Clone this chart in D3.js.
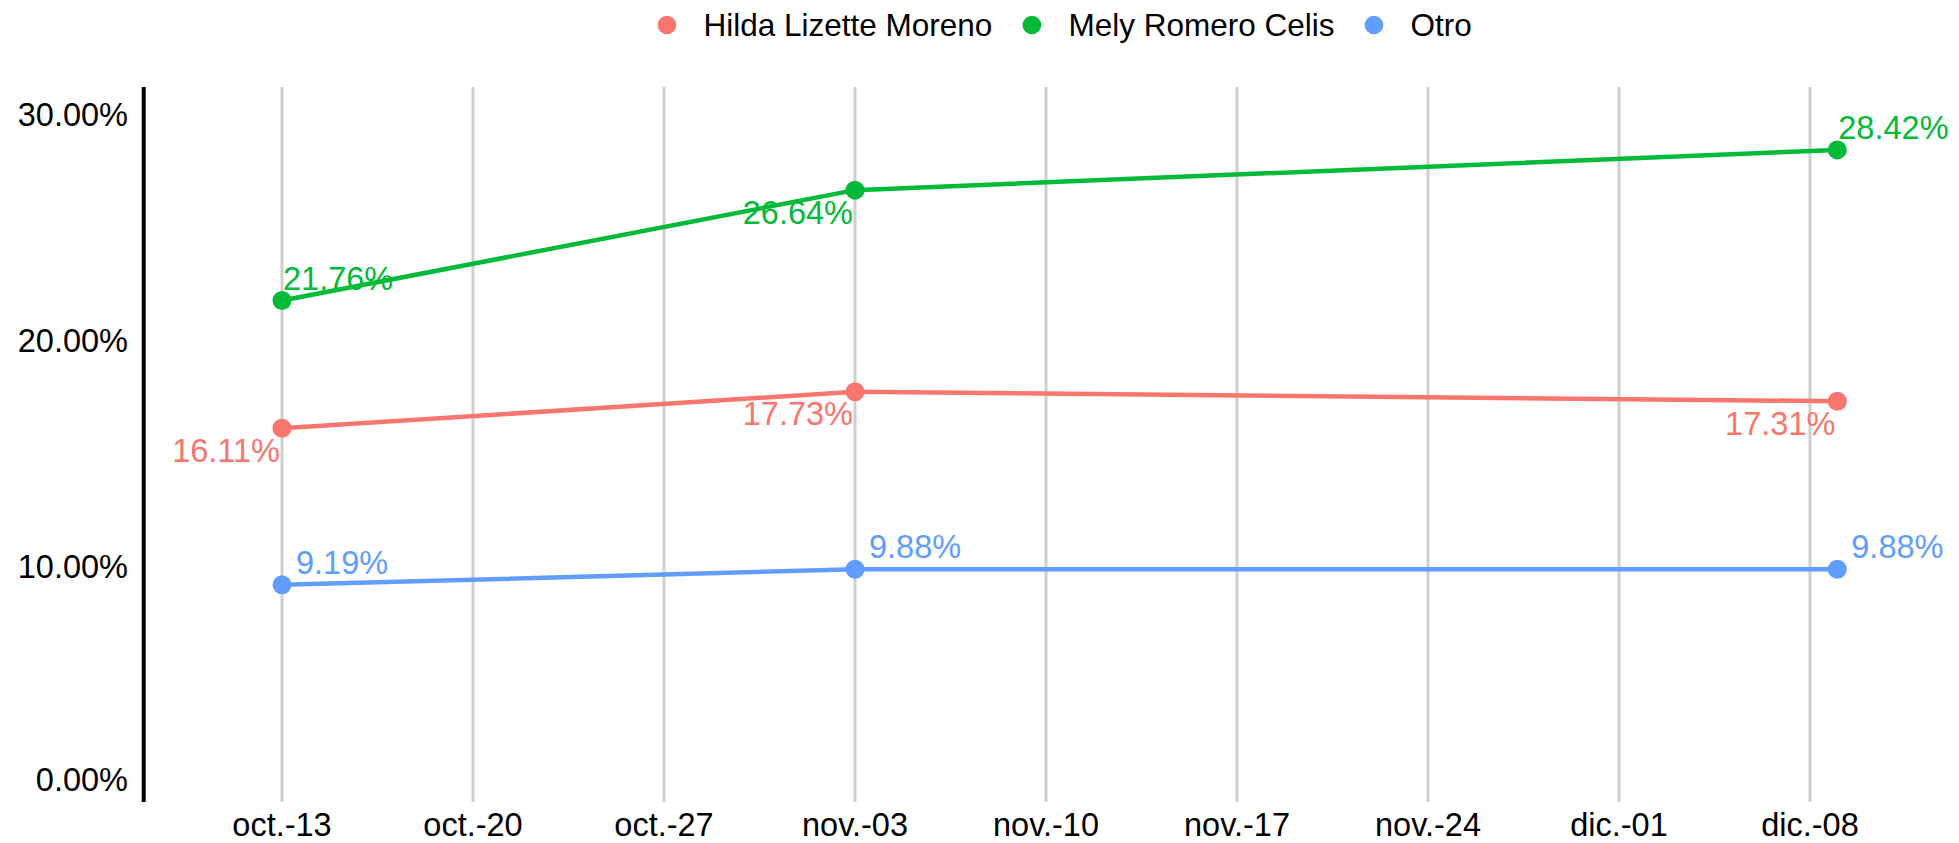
<!DOCTYPE html>
<html lang="es">
  <head>
    <meta charset="UTF-8" />
    <title>Encuesta</title>
    <script src="https://cdn.jsdelivr.net/npm/d3@7"></script>
    <style>
      body { margin: 0; background: #fff; }
      svg { display: block; font-family: "Liberation Sans", Arial, sans-serif; }
      .grid line { stroke: #cfcfcf; stroke-width: 3px; }
      .tick-label { font-size: 32.5px; fill: #000; }
      .point-label { font-size: 32.5px; }
      .legend text { font-size: 31.5px; fill: #000; }
    </style>
  </head>
  <body>
    <div id="chart"></div>
    <script>
      // datos
      const fechas = ["2024-10-13", "2024-11-03", "2024-12-09"];
      const candidatos = ["Hilda Lizette Moreno", "Mely Romero Celis", "Otro"];
      const hilda = [16.11, 17.73, 17.31];
      const mely = [21.76, 26.64, 28.42];
      const otro = [9.19, 9.88, 9.88];
      const yTicks = [0, 10, 20, 30];
      const colores = ["#F8766D", "#00BA38", "#619CFF"];

      const width = 1959, height = 843;
      const parse = d3.timeParse("%Y-%m-%d");

      const es = d3.timeFormatLocale({
        dateTime: "%x, %X", date: "%d/%m/%Y", time: "%-H:%M:%S",
        periods: ["AM", "PM"],
        days: ["domingo", "lunes", "martes", "miércoles", "jueves", "viernes", "sábado"],
        shortDays: ["dom", "lun", "mar", "mié", "jue", "vie", "sáb"],
        months: ["enero", "febrero", "marzo", "abril", "mayo", "junio", "julio", "agosto", "septiembre", "octubre", "noviembre", "diciembre"],
        shortMonths: ["ene.", "feb.", "mar.", "abr.", "may.", "jun.", "jul.", "ago.", "sept.", "oct.", "nov.", "dic."]
      });
      const fmtFecha = es.format("%b-%d");

      const series = [hilda, mely, otro].map((vals, i) => ({
        name: candidatos[i],
        color: colores[i],
        values: vals.map((v, j) => ({ date: parse(fechas[j]), value: v, idx: j }))
      }));

      const x = d3.scaleTime()
        .domain([parse(fechas[0]), parse(fechas[fechas.length - 1])])
        .range([282, 1837.3]);
      const y = d3.scaleLinear()
        .domain([-0.41, 31.2])
        .range([802, 87]);

      const svg = d3.select("#chart").append("svg")
        .attr("width", width)
        .attr("height", height);

      // lineas verticales semanales
      const semanas = d3.timeWeek.every(1).range(parse("2024-10-13"), d3.timeDay.offset(x.domain()[1], 1));
      svg.append("g").attr("class", "grid")
        .selectAll("line")
        .data(semanas)
        .join("line")
          .attr("x1", d => x(d)).attr("x2", d => x(d))
          .attr("y1", y.range()[1]).attr("y2", y.range()[0]);

      // etiquetas eje x
      svg.append("g")
        .selectAll("text")
        .data(semanas)
        .join("text")
          .attr("class", "tick-label")
          .attr("x", d => x(d))
          .attr("y", 836)
          .attr("text-anchor", "middle")
          .text(d => fmtFecha(d));

      // eje y
      svg.append("line")
        .attr("x1", 143.7).attr("x2", 143.7)
        .attr("y1", y.range()[1]).attr("y2", y.range()[0])
        .attr("stroke", "#000")
        .attr("stroke-width", 4);

      svg.append("g")
        .selectAll("text")
        .data(yTicks)
        .join("text")
          .attr("class", "tick-label")
          .attr("x", 128)
          .attr("y", d => y(d) + (d === 0 ? -13 : 0))
          .attr("dy", "0.35em")
          .attr("text-anchor", "end")
          .text(d => d3.format(".2f")(d) + "%");

      // lineas
      const line = d3.line()
        .x(d => x(d.date))
        .y(d => y(d.value));

      const g = svg.append("g")
        .selectAll("g")
        .data(series)
        .join("g");

      g.append("path")
        .attr("d", d => line(d.values))
        .attr("fill", "none")
        .attr("stroke", d => d.color)
        .attr("stroke-width", 4.5);

      g.selectAll("circle")
        .data(d => d.values.map(v => ({ ...v, color: d.color })))
        .join("circle")
          .attr("cx", d => x(d.date))
          .attr("cy", d => y(d.value))
          .attr("r", 9.5)
          .attr("fill", d => d.color);

      // posicion de etiquetas: abajo-izquierda o arriba-derecha
      function abajo(s, i) {
        if (s.name === "Hilda Lizette Moreno") return true;
        if (s.name === "Mely Romero Celis") return i === 1;
        return false;
      }

      g.each(function(s) {
        d3.select(this).selectAll("text")
          .data(s.values)
          .join("text")
            .attr("class", "point-label")
            .attr("fill", s.color)
            .attr("text-anchor", d => abajo(s, d.idx) ? "end" : "start")
            .attr("x", d => x(d.date) + (abajo(s, d.idx) ? -2 : (s.name === "Otro" ? 14 : 1)))
            .attr("y", d => y(d.value) + (abajo(s, d.idx) ? 33.5 : -11))
            .text(d => d3.format(".2f")(d.value) + "%");
      });

      // leyenda
      const legend = svg.append("g").attr("class", "legend");
      let cx = 0;
      series.forEach(s => {
        const item = legend.append("g").attr("transform", `translate(${cx},0)`);
        item.append("circle").attr("cx", 0).attr("cy", 25).attr("r", 9.3).attr("fill", s.color);
        const t = item.append("text").attr("x", 36.5).attr("y", 36).text(s.name);
        cx += 36.5 + t.node().getComputedTextLength() + 39.5;
      });
      const bb = legend.node().getBBox();
      legend.attr("transform", `translate(${1064.7 - (bb.x + bb.width / 2)},0)`);
    </script>
  </body>
</html>
